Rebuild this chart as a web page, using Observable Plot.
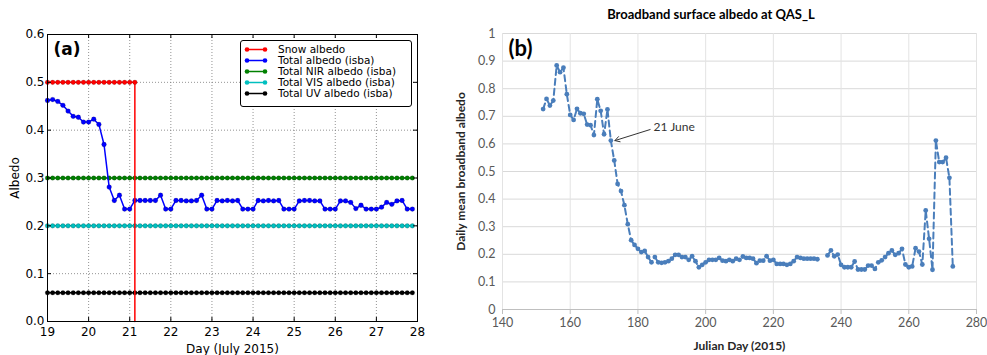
<!DOCTYPE html>
<html><head><meta charset="utf-8">
<script src="https://cdn.jsdelivr.net/npm/d3@7"></script>
<script src="https://cdn.jsdelivr.net/npm/@observablehq/plot@0.6"></script>
<style>
html,body{margin:0;padding:0;background:#fff}
body{width:987px;height:355px;position:relative;overflow:hidden}
#panelA{position:absolute;left:0;top:0}
#panelB{position:absolute;left:435px;top:0}
#legendA{position:absolute;left:240px;top:40px;width:170px;border:1px solid #000;border-radius:3px;background:#fff;box-sizing:content-box;padding-top:2.5px;height:62.5px;font-family:"DejaVu Sans",sans-serif;font-size:10.5px;color:#000}
#legendA .row{height:11px;display:flex;align-items:center;white-space:nowrap;line-height:11px}
#legendA svg{flex:none}
#titleB{position:absolute;left:435px;width:552px;top:6px;text-align:center;font-family:Lato,sans-serif;font-weight:bold;font-size:13px;color:#000}
</style></head><body>
<div id="panelA"></div>
<div id="panelB"></div>
<div id="legendA"></div>
<div id="titleB">Broadband surface albedo at QAS_L</div>
<script>
// ---------- Panel (a): model albedo, 3-hourly, 19-28 July 2015 ----------
const startDayA = 19;          // first time stamp (day of July)
const stepDaysA = 0.125;       // 3-hourly output
const xTicksA = [19, 20, 21, 22, 23, 24, 25, 26, 27, 28];
const yTicksA = [0.0, 0.1, 0.2, 0.3, 0.4, 0.5, 0.6];
const legendNames = ["Snow albedo", "Total albedo (isba)", "Total NIR albedo (isba)", "Total VIS albedo (isba)", "Total UV albedo (isba)"];
const legendColors = ["#ff0000", "#0000ff", "#008000", "#00bfbf", "#000000"];

const totalAlbedo = [
  0.462, 0.464, 0.460, 0.452, 0.440, 0.429, 0.427, 0.417,
  0.417, 0.423, 0.412, 0.370, 0.281, 0.253, 0.264, 0.235,
  0.235, 0.253, 0.253, 0.253, 0.253, 0.253, 0.264, 0.235,
  0.235, 0.253, 0.253, 0.252, 0.252, 0.253, 0.264, 0.235,
  0.235, 0.253, 0.252, 0.253, 0.252, 0.253, 0.235, 0.235,
  0.235, 0.253, 0.252, 0.253, 0.252, 0.253, 0.235, 0.235,
  0.235, 0.252, 0.253, 0.253, 0.252, 0.252, 0.235, 0.235,
  0.235, 0.252, 0.252, 0.249, 0.236, 0.243, 0.235, 0.235,
  0.235, 0.239, 0.249, 0.245, 0.252, 0.253, 0.235, 0.235
];
const snowAlbedo = [0.5, 0.5, 0.5, 0.5, 0.5, 0.5, 0.5, 0.5, 0.5, 0.5, 0.5, 0.5, 0.5, 0.5, 0.5, 0.5, 0.5, 0.5];
const snowAfterMelt = 0.0;   // snow albedo drops to zero once the snow is gone
const nirAlbedo = 0.30;
const visAlbedo = 0.20;
const uvAlbedo = 0.06;

const timesA = totalAlbedo.map((_, i) => startDayA + i * stepDaysA);
const totalData = timesA.map((t, i) => ({t, v: totalAlbedo[i]}));
const snowDots = snowAlbedo.map((v, i) => ({t: timesA[i], v}));
const snowLine = snowDots.concat([{t: timesA[snowAlbedo.length - 1], v: snowAfterMelt}]);
const constSeries = [
  {v: nirAlbedo, color: legendColors[2]},
  {v: visAlbedo, color: legendColors[3]},
  {v: uvAlbedo, color: legendColors[4]}
];

const marksA = [
  Plot.gridX(xTicksA, {stroke: "#777", strokeOpacity: 1, strokeWidth: 0.8, strokeDasharray: "1,2"}),
  Plot.gridY(yTicksA, {stroke: "#777", strokeOpacity: 1, strokeWidth: 0.8, strokeDasharray: "1,2"})
];
for (const s of constSeries) {
  const d = timesA.map(t => ({t, v: s.v}));
  marksA.push(Plot.line(d, {x: "t", y: "v", stroke: s.color, strokeWidth: 1.5}));
  marksA.push(Plot.dot(d, {x: "t", y: "v", r: 2.3, fill: s.color, stroke: "#000", strokeOpacity: 0.35, strokeWidth: 0.5}));
}
marksA.push(
  Plot.line(totalData, {x: "t", y: "v", stroke: legendColors[1], strokeWidth: 1.5}),
  Plot.dot(totalData, {x: "t", y: "v", r: 2.4, fill: legendColors[1], stroke: "#000", strokeOpacity: 0.3, strokeWidth: 0.5}),
  Plot.line(snowLine, {x: "t", y: "v", stroke: legendColors[0], strokeWidth: 1.5}),
  Plot.dot(snowDots, {x: "t", y: "v", r: 2.3, fill: legendColors[0], stroke: "#000", strokeOpacity: 0.3, strokeWidth: 0.5}),
  Plot.frame({stroke: "#000", strokeWidth: 1}),
  Plot.tickX(xTicksA, {x: d => d, insetTop: 283, stroke: "#000"}),
  Plot.tickX(xTicksA, {x: d => d, insetBottom: 283, stroke: "#000"}),
  Plot.tickY(yTicksA, {y: d => d, insetRight: 366, stroke: "#000"}),
  Plot.tickY(yTicksA, {y: d => d, insetLeft: 366, stroke: "#000"}),
  Plot.axisX({ticks: xTicksA, tickSize: 0, tickPadding: 6, tickFormat: d => String(d), label: "Day (July 2015)", labelAnchor: "center", labelArrow: "none", labelOffset: 31, fill: "#000"}),
  Plot.axisY({ticks: yTicksA, tickSize: 0, tickPadding: 3, tickFormat: d3.format(".1f"), label: "Albedo", labelAnchor: "center", labelArrow: "none", labelOffset: 37, fill: "#000"}),
  Plot.text(["(a)"], {frameAnchor: "top-left", dx: 6, dy: 8, text: d => d, textAnchor: "start", lineAnchor: "top", fontSize: 17, fontWeight: "bold", fill: "#000"})
);

const plotA = Plot.plot({
  width: 435, height: 355,
  marginLeft: 47, marginRight: 18, marginTop: 34, marginBottom: 34,
  x: {domain: [19, 28]},
  y: {domain: [0, 0.6]},
  style: {fontFamily: "DejaVu Sans, sans-serif", fontSize: "12px", color: "#000", background: "transparent"},
  marks: marksA
});
document.getElementById("panelA").appendChild(plotA);

// legend (a)
const leg = document.getElementById("legendA");
legendNames.forEach((name, i) => {
  const c = legendColors[i];
  const row = document.createElement("div");
  row.className = "row";
  row.innerHTML = `<svg width="37" height="11"><line x1="6" y1="5.5" x2="24" y2="5.5" stroke="${c}" stroke-width="1.5"/>` +
    `<circle cx="6" cy="5.5" r="2.3" fill="${c}"/><circle cx="24" cy="5.5" r="2.3" fill="${c}"/></svg><span>${name}</span>`;
  leg.appendChild(row);
});

// ---------- Panel (b): observed daily broadband albedo at QAS_L ----------
const firstJulianDay = 152;
const xTicksB = [140, 160, 180, 200, 220, 240, 260, 280];
const yTicksB = [0, 0.1, 0.2, 0.3, 0.4, 0.5, 0.6, 0.7, 0.8, 0.9, 1];
const dailyAlbedo = [
  0.726, 0.763, 0.739, 0.757, 0.884, 0.860, 0.876, 0.780, 0.705, 0.687,   // 152-161
  0.727, 0.711, 0.709, 0.670, 0.668, 0.632, 0.762, 0.720, 0.635, 0.725,   // 162-171
  0.612, 0.540, 0.455, 0.429, 0.378, 0.309, 0.251, 0.234, 0.220, 0.208,   // 172-181
  0.212, 0.190, 0.171, 0.190, 0.171,                                      // 182-186
  0.169, 0.171, 0.175, 0.184, 0.198, 0.198, 0.190, 0.190, 0.180, 0.193,   // 187-196
  0.175, 0.153, 0.162, 0.171, 0.180, 0.180, 0.180, 0.187, 0.177, 0.175,   // 197-206
  0.180, 0.175, 0.184, 0.180, 0.192, 0.187, 0.187, 0.184, 0.168, 0.177,   // 207-216
  0.177, 0.193, 0.177, 0.180, 0.165, 0.165, 0.165, 0.162, 0.165, 0.175,   // 217-226
  0.190, 0.187, 0.184, 0.184, 0.184, 0.184, 0.182,                        // 227-233
  null, null,                                                             // 234-235 missing
  0.196, 0.214, 0.193, 0.199, 0.162, 0.153, 0.153, 0.153, 0.174, 0.145,   // 236-245
  0.145, 0.145, 0.159, 0.159, 0.147, 0.171, 0.178, 0.190, 0.204, 0.214,   // 246-255
  0.198, 0.204, 0.220, 0.163, 0.153, 0.156, 0.222, 0.210, 0.163, 0.359,   // 256-265
  0.256, 0.144, 0.612, 0.534, 0.534, 0.550, 0.477, 0.156                  // 266-273
];
const annotationText = "21 June";
const annotationDay = 172;
const annotationTextPos = {day: 184.6, value: 0.66};
const annotationArrowStart = {day: 183.6, value: 0.652};

const dataB = dailyAlbedo.map((v, i) => ({day: firstJulianDay + i, v}));
const dotsB = dataB.filter(d => d.v != null);
const blueB = "#4a7ebb";
const target = dataB.find(d => d.day === annotationDay);

const plotB = Plot.plot({
  width: 552, height: 355,
  marginLeft: 67, marginRight: 11, marginTop: 33, marginBottom: 46,
  x: {domain: [140, 280]},
  y: {domain: [0, 1]},
  style: {fontFamily: "Lato, sans-serif", fontSize: "12.5px", color: "#595959", background: "transparent"},
  marks: [
    Plot.gridY(yTicksB.slice(1), {stroke: "#d9d9d9", strokeOpacity: 1, strokeWidth: 1}),
    Plot.gridX(xTicksB, {stroke: "#e3e3e3", strokeOpacity: 1, strokeWidth: 1}),
    Plot.ruleY([0], {stroke: "#bfbfbf", strokeWidth: 1}),
    Plot.axisX({ticks: xTicksB, tickSize: 5, stroke: "#bfbfbf", tickPadding: 4, tickFormat: d => String(d), fill: "#595959",
      label: "Julian Day (2015)", labelAnchor: "center", labelArrow: "none", labelOffset: 40}),
    Plot.axisY({ticks: yTicksB, tickSize: 0, tickPadding: 7, tickFormat: d => String(d), fill: "#595959",
      label: "Daily mean broadband albedo", labelAnchor: "center", labelArrow: "none", labelOffset: 46}),
    Plot.line(dataB, {x: "day", y: "v", stroke: blueB, strokeWidth: 2, strokeDasharray: "6,4"}),
    Plot.dot(dotsB, {x: "day", y: "v", r: 2.4, fill: blueB}),
    Plot.arrow([0], {x1: annotationArrowStart.day, y1: annotationArrowStart.value, x2: annotationDay + 1.2, y2: target.v,
      stroke: "#333", strokeWidth: 1, headLength: 8, bend: 0}),
    Plot.text([annotationText], {x: annotationTextPos.day, y: annotationTextPos.value, text: d => d, textAnchor: "start", fill: "#333", fontSize: 12}),
    Plot.text(["(b)"], {frameAnchor: "top-left", dx: 6, dy: 7, text: d => d, textAnchor: "start", lineAnchor: "top", fontSize: 22, fontWeight: "bold", fill: "#000"})
  ]
});
document.getElementById("panelB").appendChild(plotB);
// axis titles in panel (b) are bold and dark
plotB.querySelectorAll("g[aria-label='x-axis label'] text, g[aria-label='y-axis label'] text").forEach(t => {
  t.setAttribute("font-weight", "bold"); t.setAttribute("fill", "#262626"); t.setAttribute("font-size", "12");
});
</script>
</body></html>
